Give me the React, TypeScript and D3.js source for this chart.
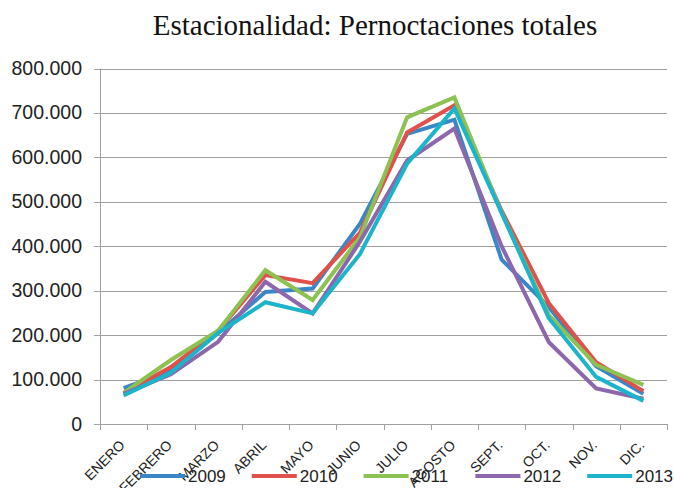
import React from 'react';
import { scaleBand, scaleLinear, line, formatLocale } from 'd3';

const width = 674;
const height = 488;
const margin = { top: 68.5, right: 7, bottom: 64, left: 100 };

const months = ['ENERO', 'FEBRERO', 'MARZO', 'ABRIL', 'MAYO', 'JUNIO', 'JULIO', 'AGOSTO', 'SEPT.', 'OCT.', 'NOV.', 'DIC.'];
const yTicks = [0, 100000, 200000, 300000, 400000, 500000, 600000, 700000, 800000];

const y2009 = [81000, 120000, 205000, 297000, 305000, 450000, 653000, 685000, 370000, 263000, 130000, 68000];
const y2010 = [70000, 128000, 210000, 335000, 317000, 430000, 656000, 717000, 480000, 272000, 139000, 74000];
const y2011 = [70000, 144000, 210000, 346000, 279000, 420000, 690000, 735000, 475000, 245000, 133000, 88000];
const y2012 = [68000, 112000, 185000, 320000, 249000, 410000, 593000, 665000, 400000, 184000, 80000, 57000];
const y2013 = [64000, 115000, 205000, 274000, 249000, 382000, 586000, 710000, 475000, 238000, 106000, 52000];

const seriesNames = ['2009', '2010', '2011', '2012', '2013'];
const seriesColors = ['#3A86C6', '#E0514B', '#8DC152', '#8C67AB', '#1CB4CA'];

const locale = formatLocale({ decimal: ',', thousands: '.', grouping: [3], currency: ['', ''] });
const fmt = locale.format(',');

const App = () => {
  const series = [y2009, y2010, y2011, y2012, y2013];

  // scales
  const xScale = scaleBand<string>()
    .domain(months)
    .range([margin.left, width - margin.right]);
  const yScale = scaleLinear()
    .domain([0, 800000])
    .range([height - margin.bottom, margin.top]);

  const cx = (m: string) => (xScale(m) as number) + xScale.bandwidth() / 2;

  const lineFn = line<number>()
    .x((d, i) => cx(months[i]))
    .y(d => yScale(d));

  const x0 = margin.left;
  const x1 = width - margin.right;
  const yBase = yScale(0);
  const grid = '#a0a0a0';

  return (
    <div style={{ position: 'absolute', left: 0, top: 0 }}>
      <svg width={width} height={height} style={{ display: 'block', background: '#fff' }}>
        <text x={375} y={35} textAnchor="middle" fontFamily="Liberation Serif" fontSize={29} fill="#111">
          Estacionalidad: Pernoctaciones totales
        </text>

        {/* gridlines + y axis */}
        <g>
          {yTicks.map(t => (
            <g key={t}>
              <line x1={x0 - 6} x2={x1} y1={Math.round(yScale(t)) + 0.5} y2={Math.round(yScale(t)) + 0.5} stroke={grid} />
              <text x={82} y={yScale(t) + 6.5} textAnchor="end" fontFamily="Liberation Sans" fontSize={19.5} fill="#222">
                {fmt(t)}
              </text>
            </g>
          ))}
          <line x1={x0 + 0.5} x2={x0 + 0.5} y1={margin.top} y2={yBase} stroke={grid} />
        </g>

        {/* x ticks and labels */}
        <g>
          {months.map(m => (
            <line key={m} x1={Math.round(xScale(m) as number) + 0.5} x2={Math.round(xScale(m) as number) + 0.5}
              y1={yBase} y2={yBase + 6} stroke={grid} />
          ))}
          <line x1={Math.round(x1) + 0.5} x2={Math.round(x1) + 0.5} y1={yBase} y2={yBase + 6} stroke={grid} />
          {months.map(m => (
            <text key={m} transform={`translate(${cx(m) + 2}, 446) rotate(-45)`} textAnchor="end"
              fontFamily="Liberation Sans" fontSize={14} fill="#222">
              {m}
            </text>
          ))}
        </g>

        {/* lines */}
        <g fill="none" strokeWidth={4} strokeLinejoin="miter">
          {series.map((s, i) => (
            <path key={seriesNames[i]} d={lineFn(s) as string} stroke={seriesColors[i]} />
          ))}
        </g>

        {/* legend */}
        <g>
          {seriesNames.map((n, i) => (
            <g key={n} transform={`translate(${140 + i * 111.8}, 476)`}>
              <line x1={0} x2={45} y1={0} y2={0} stroke={seriesColors[i]} strokeWidth={4} />
              <text x={48} y={6} fontFamily="Liberation Sans" fontSize={17} fill="#222">{n}</text>
            </g>
          ))}
        </g>
      </svg>
    </div>
  );
};

export default App;
